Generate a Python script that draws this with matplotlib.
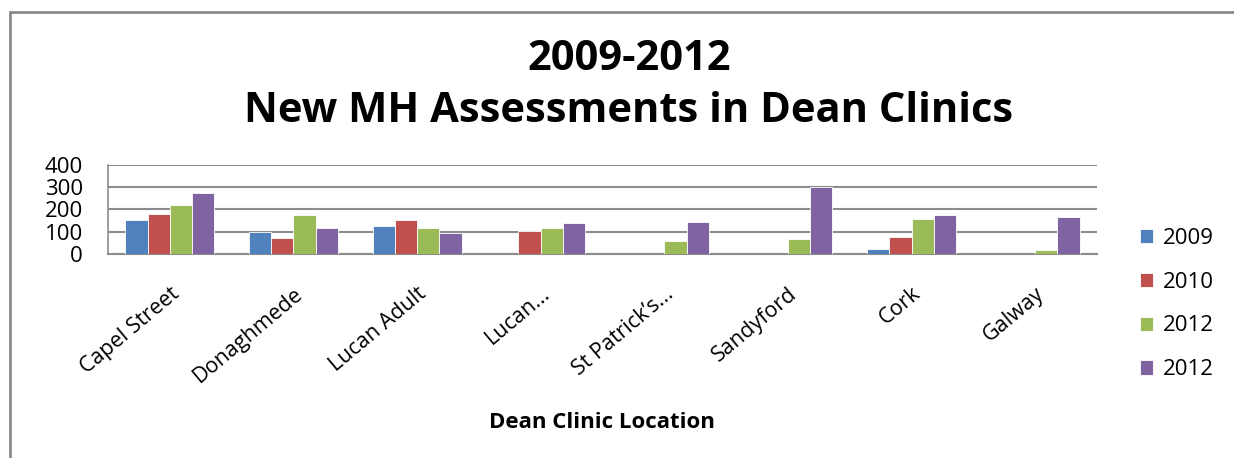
import matplotlib
matplotlib.use("Agg")
import matplotlib.pyplot as plt
import numpy as np
from matplotlib.patches import Rectangle

plt.rcParams['font.family'] = ['Open Sans', 'DejaVu Sans']

# clinics and yearly counts
clinics = ['Capel Street', 'Donaghmede', 'Lucan Adult', 'Lucan...',
           'St Patrick\u2019s...', 'Sandyford', 'Cork', 'Galway']
series_names = ['2009', '2010', '2012', '2012']
v2009 = [151, 101, 125, 0, 0, 0, 22, 0]
v2010 = [182, 73, 151, 104, 0, 0, 75, 0]
v2012a = [218, 176, 119, 119, 60, 69, 157, 18]
v2012b = [275, 119, 94, 140, 146, 301, 176, 166]
colors = ['#4F81BD', '#C0504D', '#9BBB59', '#8064A2']

fig = plt.figure(figsize=(12.34, 4.58), dpi=100)
# chart frame (only left and top edge visible in the crop)
fig.patches.append(Rectangle((10 / 1234, -0.1), 1.2, 1.1 - 12 / 458,
                             transform=fig.transFigure, fill=False,
                             edgecolor='#8a8a8a', linewidth=2))

ax = fig.add_axes([108 / 1234, 1 - 254 / 458, 989 / 1234, 89 / 458])

x = np.arange(len(clinics))
w = 0.18
all_vals = [v2009, v2010, v2012a, v2012b]
for i, vals in enumerate(all_vals):
    ax.bar(x + (i - 1.5) * w, vals, w, color=colors[i], label=series_names[i],
           edgecolor='white', linewidth=0.6, zorder=3)

ax.set_xlim(-0.5, len(clinics) - 0.5)
ax.set_ylim(0, 400)
ax.set_yticks([0, 100, 200, 300, 400])
ax.yaxis.grid(True, color='#8c8c8c', linewidth=1.5, zorder=0)
for s in ['top', 'right']:
    ax.spines[s].set_visible(False)
ax.spines['left'].set_color('#8c8c8c')
ax.spines['bottom'].set_color('#8c8c8c')
ax.spines['left'].set_linewidth(1.2)
ax.spines['bottom'].set_linewidth(1.5)
ax.tick_params(axis='both', length=0)
ax.tick_params(axis='y', labelsize=16, pad=18)
ax.set_xticks(x)
ax.set_xticklabels(clinics, rotation=40, ha='right', rotation_mode='anchor',
                   fontsize=15.5)
ax.tick_params(axis='x', pad=21)

ax.set_xlabel('Dean Clinic Location', fontsize=16, fontweight='bold')
ax.xaxis.set_label_coords(602 / 1234, 1 - 423 / 458, transform=fig.transFigure)
ax.xaxis.label.set_va('center')

fig.text(629 / 1234, 1 - 60 / 458, '2009-2012', ha='center', va='center',
         fontsize=30, fontweight='bold')
fig.text(629 / 1234, 1 - 111 / 458, 'New MH Assessments in Dean Clinics',
         ha='center', va='center', fontsize=30, fontweight='bold')

ax.legend(loc='center left', frameon=False,
          fontsize=16, handlelength=0.6, handleheight=0.6,
          labelspacing=1.03, handletextpad=0.45)
leg = ax.get_legend()
leg.set_bbox_to_anchor((1120 / 1234, 1 - 304 / 458), transform=fig.transFigure)

fig.savefig('out.png', dpi=100)
